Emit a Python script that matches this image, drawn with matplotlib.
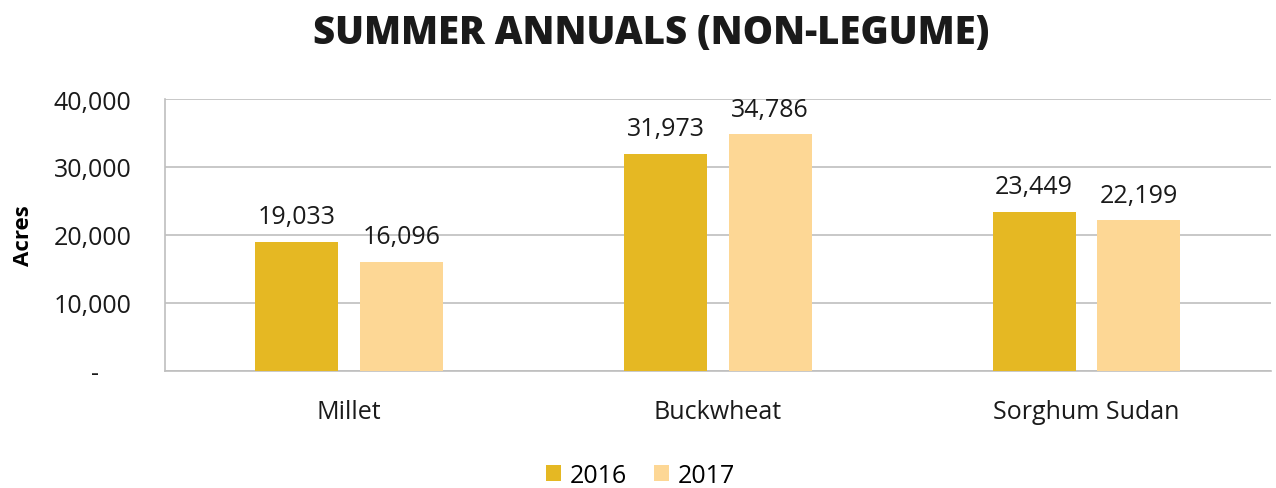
import numpy as np
import matplotlib.pyplot as plt
from matplotlib.ticker import FuncFormatter

categories = ['Millet', 'Buckwheat', 'Sorghum Sudan']
acres_2016 = [19033, 31973, 23449]
acres_2017 = [16096, 34786, 22199]
years = ['2016', '2017']

col_2016 = '#E5B823'
col_2017 = '#FDD795'
grid_col = '#BFBFBF'

plt.rcParams['font.family'] = ['Open Sans', 'DejaVu Sans']

fig = plt.figure(figsize=(12.76, 4.89), dpi=100)
ax = fig.add_axes([0.1293, 0.2393, 0.8667, 0.5562])

x = np.arange(len(categories))
w = 0.225
b1 = ax.bar(x - 0.142, acres_2016, w, color=col_2016, label=years[0], zorder=3)
b2 = ax.bar(x + 0.142, acres_2017, w, color=col_2017, label=years[1], zorder=3)

# value labels above each bar
for bars in (b1, b2):
    for b in bars:
        ax.annotate(f'{int(b.get_height()):,}', (b.get_x() + b.get_width() / 2, b.get_height()),
                    xytext=(0, 9), textcoords='offset points', ha='center', va='bottom',
                    fontsize=18, color='#1a1a1a')

ax.set_xlim(-0.5, 2.5)
ax.set_ylim(0, 40000)
ax.set_yticks([0, 10000, 20000, 30000, 40000])
ax.yaxis.set_major_formatter(FuncFormatter(lambda v, p: '-     ' if v == 0 else f'{int(v):,}'))
ax.set_xticks(x)
ax.set_xticklabels(categories)
ax.tick_params(axis='both', length=0, labelsize=18, colors='#1a1a1a')
ax.tick_params(axis='y', pad=24)
ax.tick_params(axis='x', pad=20)
ax.grid(axis='y', color=grid_col, linewidth=1.2, zorder=0)
for s in ['top', 'right']:
    ax.spines[s].set_visible(False)
ax.spines['left'].set_color(grid_col)
ax.spines['bottom'].set_color(grid_col)
ax.spines['left'].set_linewidth(1.2)
ax.spines['bottom'].set_linewidth(1.2)

ax.set_ylabel('Acres', fontsize=16, fontweight='bold')
ax.yaxis.set_label_coords(-0.118, 0.5)

fig.text(0.51, 0.932, 'SUMMER ANNUALS (NON-LEGUME)', ha='center', va='center',
         fontsize=27.5, fontweight='heavy', color='#1a1a1a')

fig.legend(handles=[b1, b2], labels=years, loc='center', bbox_to_anchor=(0.502, 0.026),
           ncol=2, frameon=False, fontsize=18, handlelength=0.6, handleheight=0.6,
           handletextpad=0.35, columnspacing=1.1)

fig.savefig('out.png', dpi=100)
